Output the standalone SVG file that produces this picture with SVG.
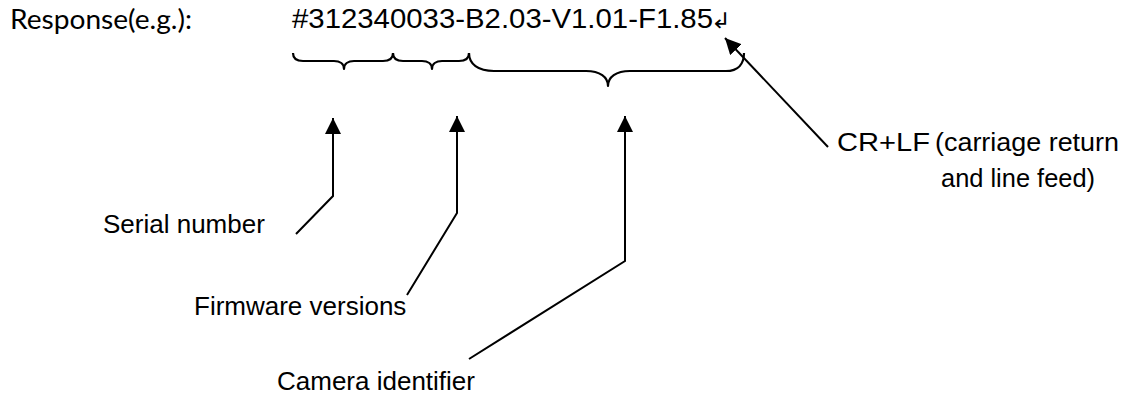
<svg xmlns="http://www.w3.org/2000/svg" width="1129" height="398" viewBox="0 0 1129 398">
  <style>
    .lbl { font-family: "Liberation Sans", Arial, sans-serif; font-size: 26px; fill: #000; }
    .code { font-family: "Liberation Sans", Arial, sans-serif; font-size: 28.5px; fill: #000; }
    .head { font-family: Lato, "Open Sans", sans-serif; font-size: 27px; fill: #000; }
    .brace { fill: none; stroke: #000; stroke-width: 2.2; stroke-linejoin: round; }
    .conn { fill: none; stroke: #000; stroke-width: 2; stroke-linejoin: miter; }
  </style>
  <defs>
    <marker id="arrow" markerUnits="userSpaceOnUse" markerWidth="17" markerHeight="17" refX="16" refY="8" orient="auto" viewBox="0 0 17 17">
      <path d="M0,0 L16,8 L0,16 Z" fill="#000"/>
    </marker>
  </defs>

  <rect width="1129" height="398" fill="#fff"/>

  <!-- response line -->
  <g id="heading">
    <text class="head" x="10" y="29" textLength="182" lengthAdjust="spacingAndGlyphs">Response(e.g.):</text>
  </g>
  <g id="response">
    <text class="code" x="292" y="28" textLength="421" lengthAdjust="spacingAndGlyphs">#312340033-B2.03-V1.01-F1.85</text>
    <text x="711" y="28" font-family="DejaVu Sans, sans-serif" font-size="22" textLength="20" lengthAdjust="spacingAndGlyphs">↲</text>
  </g>

  <!-- braces under the fields -->
  <g id="braces">
    <path class="brace" d="M293,53 C293,58 296,61 303,61 L334,61 C340,61 344,64 344,69 C344,64 348,61 354,61 L383,61 C390,61 393,58 393,53"/>
    <path class="brace" d="M393,53 C393,58 396,61 403,61 L422,61 C428,61 432,64 432,69 C432,64 436,61 442,61 L459,61 C466,61 469,58 469,53"/>
    <path class="brace" d="M469,53 C469,64 478,71 494,71 L586,71 C600,71 608,77 608,86 C608,77 616,71 630,71 L726,71 C738,71 744,64 744,53"/>
  </g>

  <!-- labels -->
  <g id="serial">
    <text class="lbl" x="103" y="233">Serial number</text>
  </g>
  <g id="firmware">
    <text class="lbl" x="194" y="315">Firmware versions</text>
  </g>
  <g id="camera">
    <text class="lbl" x="277" y="390">Camera identifier</text>
  </g>
  <g id="crlf">
    <text class="lbl" x="837" y="151" font-size="29" textLength="93" lengthAdjust="spacingAndGlyphs">CR+LF</text>
    <text class="lbl" x="935" y="151" textLength="184" lengthAdjust="spacingAndGlyphs">(carriage return</text>
    <text class="lbl" x="941" y="187" textLength="154" lengthAdjust="spacingAndGlyphs">and line feed)</text>
  </g>

  <!-- connectors -->
  <g id="connectors">
    <polyline class="conn" points="296,234 333,196 333,118" marker-end="url(#arrow)"/>
    <polyline class="conn" points="407,295 457,213 457,116" marker-end="url(#arrow)"/>
    <polyline class="conn" points="469,359 625,261 625,116" marker-end="url(#arrow)"/>
    <line class="conn" x1="828" y1="147" x2="725" y2="38" marker-end="url(#arrow)"/>
  </g>
</svg>
